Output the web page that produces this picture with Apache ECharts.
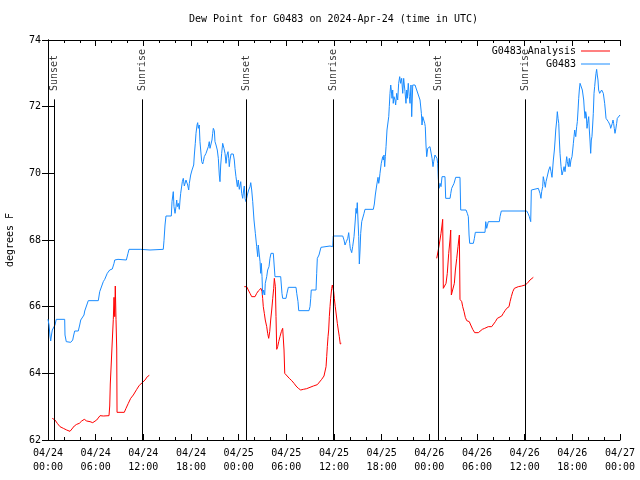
<!DOCTYPE html>
<html>
<head>
<meta charset="utf-8">
<script src="https://cdn.jsdelivr.net/npm/echarts@6/dist/echarts.min.js"></script>
<style>html,body{margin:0;padding:0;background:#fff}#c{width:640px;height:480px}</style>
</head>
<body>
<div id="c"></div>
<script>
// time in hours since 2024-04-24 00:00 UTC
const titleText = 'Dew Point for G0483 on 2024-Apr-24 (time in UTC)';
const yTicks = [62, 64, 66, 68, 70, 72, 74];
const sunTimes = [0.79, 11.87, 24.92, 35.92, 49.13, 60.09];
const sunLabels = ['Sunset', 'Sunrise', 'Sunset', 'Sunrise', 'Sunset', 'Sunrise'];

const analysisSeg1 = [[0.54,62.65],[0.88,62.6],[1.17,62.5],[1.51,62.4],[1.93,62.35],[2.35,62.3],[2.77,62.26],[2.98,62.32],[3.31,62.42],[3.61,62.47],[3.94,62.5],[4.24,62.57],[4.57,62.62],[4.87,62.57],[5.29,62.55],[5.63,62.52],[5.83,62.47],[6.13,62.6],[6.55,62.73],[6.96,62.72],[7.68,62.73],[7.77,63.02],[7.84,63.68],[7.97,64.34],[8.09,64.97],[8.22,65.62],[8.31,66.28],[8.4,65.7],[8.47,66.62],[8.56,65.62],[8.65,64.73],[8.69,62.83],[9.6,62.83],[9.82,62.95],[10.11,63.1],[10.41,63.25],[10.74,63.35],[11.17,63.52],[11.49,63.64],[11.87,63.72],[12.21,63.8],[12.5,63.9],[12.75,63.94]];
const analysisSeg2 = [[24.71,66.6],[25.01,66.6],[25.21,66.5],[25.43,66.4],[25.64,66.3],[25.84,66.25],[26.06,66.3],[26.27,66.4],[26.47,66.47],[26.69,66.52],[26.81,66.55],[26.94,66.45],[27.02,66.25],[27.1,66.0],[27.23,65.8],[27.35,65.6],[27.53,65.4],[27.65,65.2],[27.78,65.05],[27.91,65.25],[28.03,65.6],[28.16,65.9],[28.29,66.25],[28.41,66.55],[28.49,66.85],[28.62,66.6],[28.7,65.7],[28.79,64.72],[28.91,64.8],[29.04,64.95],[29.2,65.1],[29.37,65.25],[29.54,65.35],[29.62,65.4],[29.71,64.7],[29.8,64.0],[30.05,63.95],[30.37,63.85],[30.68,63.78],[30.97,63.7],[31.22,63.62],[31.51,63.55],[31.81,63.5],[32.14,63.52],[32.56,63.54],[32.98,63.58],[33.4,63.62],[33.9,63.66],[34.15,63.7],[34.45,63.82],[34.74,63.92],[34.91,63.98],[35.0,64.2],[35.08,64.5],[35.16,64.8],[35.25,65.1],[35.33,65.3],[35.41,65.7],[35.5,66.0],[35.58,66.25],[35.71,66.55],[35.79,66.65],[35.87,66.55],[35.96,66.45],[36.04,66.25],[36.16,66.0],[36.29,65.75],[36.42,65.5],[36.54,65.3],[36.67,65.1],[36.79,64.88],[36.92,64.9]];
const analysisSeg3 = [[48.93,67.45],[49.0,67.4],[49.13,67.7],[49.34,68.0],[49.47,68.2],[49.6,68.45],[49.68,68.62],[49.76,66.55],[49.97,66.55],[50.1,66.7],[50.26,67.0],[50.44,67.6],[50.6,68.0],[50.69,68.3],[50.77,66.35],[51.02,66.35],[51.15,66.7],[51.28,67.1],[51.45,67.45],[51.61,67.8],[51.7,68.0],[51.78,68.15],[51.86,66.22],[52.08,66.15],[52.2,66.0],[52.37,65.85],[52.53,65.68],[52.71,65.58],[53.03,65.55],[53.21,65.45],[53.46,65.32],[53.71,65.22],[53.96,65.17],[54.17,65.22],[54.38,65.27],[54.67,65.32],[54.97,65.35],[55.42,65.4],[55.85,65.4],[56.05,65.45],[56.31,65.55],[56.56,65.65],[56.81,65.7],[57.11,65.72],[57.31,65.8],[57.53,65.88],[57.74,65.95],[58.03,66.0],[58.16,66.15],[58.32,66.3],[58.5,66.45],[58.7,66.55],[58.91,66.58],[59.2,66.6],[59.63,66.62],[60.04,66.65],[60.33,66.7],[60.67,66.8],[61.09,66.88]];

const observed = [[0,65.62],[0.13,65.45],[0.25,65.12],[0.34,64.97],[0.42,65.12],[0.54,65.3],[0.76,65.3],[0.88,65.45],[1.04,65.62],[2.1,65.62],[2.14,65.15],[2.3,64.95],[2.86,64.93],[3.11,65.0],[3.21,65.12],[3.36,65.27],[3.81,65.27],[3.99,65.45],[4.12,65.6],[4.53,65.75],[4.62,65.87],[5.07,66.18],[6.33,66.18],[6.51,66.45],[6.96,66.75],[7.14,66.82],[7.46,67.0],[7.77,67.1],[8.09,67.13],[8.31,67.3],[8.4,67.4],[8.81,67.42],[9.86,67.4],[10.07,67.6],[10.2,67.72],[11.67,67.72],[12.84,67.7],[14.51,67.72],[14.6,67.98],[14.73,68.45],[14.85,68.72],[15.52,68.72],[15.61,69.15],[15.77,69.45],[15.86,69.0],[15.99,68.8],[16.11,69.0],[16.2,69.2],[16.28,69.0],[16.4,69.1],[16.53,68.92],[16.62,69.2],[16.7,69.4],[16.91,69.75],[17.03,69.85],[17.16,69.62],[17.37,69.8],[17.58,69.65],[17.71,69.5],[17.79,69.7],[17.96,69.95],[18.13,70.1],[18.34,70.25],[18.42,70.55],[18.54,70.9],[18.63,71.2],[18.76,71.45],[18.84,71.52],[18.92,71.35],[19.04,71.45],[19.13,70.95],[19.22,70.7],[19.35,70.35],[19.47,70.28],[19.55,70.35],[19.67,70.5],[19.89,70.6],[20.18,70.8],[20.3,70.95],[20.39,70.75],[20.52,70.7],[20.64,71.0],[20.73,71.2],[20.81,71.35],[20.94,71.28],[21.02,70.95],[21.15,70.85],[21.31,70.7],[21.44,70.45],[21.56,69.95],[21.65,69.75],[21.74,70.25],[21.86,70.6],[21.99,70.9],[22.15,70.75],[22.28,70.6],[22.41,70.3],[22.53,70.55],[22.66,70.65],[22.75,70.45],[22.82,70.2],[22.91,70.4],[23.04,70.58],[23.32,70.58],[23.45,70.4],[23.54,70.15],[23.66,69.9],[23.83,69.6],[23.95,69.8],[24.08,69.52],[24.26,69.75],[24.38,69.4],[24.51,69.25],[24.63,69.5],[24.71,69.62],[24.8,69.25],[24.92,69.15],[25.09,69.35],[25.26,69.5],[25.43,69.6],[25.52,69.72],[25.64,69.5],[25.77,69.15],[25.93,68.6],[26.1,68.2],[26.27,67.8],[26.4,67.5],[26.47,67.85],[26.6,67.9],[26.69,67.35],[26.77,67.0],[26.85,67.3],[26.94,66.9],[27.02,66.35],[27.15,66.5],[27.28,66.35],[27.35,66.7],[27.53,66.9],[27.65,67.1],[27.82,67.2],[27.94,67.45],[28.07,67.6],[28.36,67.6],[28.45,67.55],[28.57,66.9],[29.29,66.9],[29.45,66.4],[29.54,66.25],[29.96,66.25],[30.08,66.4],[30.25,66.58],[31.22,66.58],[31.31,66.4],[31.47,66.15],[31.56,65.88],[32.85,65.88],[32.98,66.0],[33.07,66.25],[33.14,66.5],[33.74,66.5],[33.82,67.0],[33.9,67.45],[34.11,67.55],[34.36,67.78],[34.53,67.82],[35.5,67.82],[35.84,67.8],[35.91,68.12],[37.1,68.12],[37.26,68.0],[37.39,67.85],[37.55,67.95],[37.73,68.05],[37.85,68.22],[37.98,67.9],[38.05,67.75],[38.23,67.62],[38.35,67.8],[38.52,68.1],[38.68,68.6],[38.77,68.95],[38.86,68.8],[38.93,69.12],[39.02,68.6],[39.11,68.1],[39.19,67.28],[39.28,67.7],[39.36,68.2],[39.49,68.55],[39.69,68.6],[39.78,68.8],[39.9,68.92],[40.95,68.92],[41.08,69.08],[41.2,69.35],[41.38,69.65],[41.54,69.88],[41.63,69.7],[41.7,69.8],[41.79,70.0],[41.95,70.3],[42.13,70.5],[42.21,70.4],[42.29,70.55],[42.38,70.2],[42.46,70.5],[42.55,70.8],[42.67,71.3],[42.89,71.7],[42.96,72.0],[43.05,72.4],[43.14,72.65],[43.21,72.5],[43.3,72.25],[43.39,72.5],[43.46,72.1],[43.55,72.3],[43.68,72.2],[43.76,72.05],[43.89,72.4],[44.02,72.2],[44.14,72.7],[44.27,72.9],[44.39,72.7],[44.52,72.85],[44.65,72.4],[44.77,72.85],[44.85,72.65],[44.94,72.45],[45.06,72.1],[45.15,72.5],[45.23,72.25],[45.35,72.7],[45.48,72.3],[45.57,72.1],[45.69,72.65],[45.78,71.7],[45.91,72.65],[45.99,72.7],[46.2,72.65],[46.41,72.5],[46.62,72.45],[46.83,72.2],[47.0,71.8],[47.08,71.45],[47.17,71.7],[47.3,71.75],[47.42,71.5],[47.49,71.4],[47.58,70.85],[47.67,70.5],[47.8,70.75],[47.92,70.8],[48.08,70.8],[48.21,70.75],[48.34,70.45],[48.46,70.2],[48.55,70.35],[48.71,70.55],[48.84,70.6],[48.96,70.45],[49.05,70.3],[49.13,69.85],[49.22,69.55],[49.35,69.7],[49.47,69.6],[49.6,69.9],[49.97,69.9],[50.06,69.25],[50.61,69.25],[50.7,69.4],[50.81,69.55],[51.02,69.6],[51.11,69.7],[51.32,69.88],[51.86,69.88],[51.95,68.9],[52.62,68.9],[52.78,68.8],[52.91,68.7],[53.0,68.15],[53.08,67.9],[53.54,67.9],[53.67,68.05],[53.79,68.23],[55.01,68.23],[55.1,68.55],[55.22,68.35],[55.3,68.4],[55.42,68.55],[56.81,68.55],[56.9,68.7],[57.06,68.87],[60.26,68.87],[60.42,68.8],[60.59,68.7],[60.76,68.55],[60.84,69.5],[60.92,69.55],[61.72,69.55],[61.84,69.5],[61.93,69.4],[62.05,69.25],[62.14,69.45],[62.27,69.6],[62.34,69.9],[62.47,69.75],[62.6,69.58],[62.69,69.75],[62.85,69.8],[63.03,70.1],[63.19,70.2],[63.32,70.05],[63.44,69.88],[63.61,70.4],[63.74,70.7],[63.83,71.0],[63.91,71.3],[64.04,71.6],[64.11,71.85],[64.2,71.65],[64.29,71.5],[64.37,71.0],[64.45,70.6],[64.58,70.2],[64.7,69.95],[64.79,69.9],[64.87,70.1],[64.96,70.2],[65.08,70.05],[65.2,70.3],[65.29,70.5],[65.37,70.35],[65.5,70.2],[65.62,70.45],[65.71,70.2],[65.83,70.4],[65.96,70.5],[66.05,70.7],[66.13,70.9],[66.21,71.1],[66.3,71.3],[66.43,71.1],[66.55,71.4],[66.63,71.55],[66.72,71.9],[66.8,72.25],[66.88,72.5],[66.97,72.7],[67.05,72.65],[67.18,72.75],[67.26,72.5],[67.35,72.55],[67.43,72.2],[67.51,71.9],[67.6,71.65],[67.68,71.85],[67.76,71.75],[67.85,71.35],[67.93,71.5],[68.06,71.7],[68.14,71.3],[68.22,71.0],[68.31,70.6],[68.39,71.0],[68.47,71.1],[68.56,71.45],[68.64,71.8],[68.73,72.4],[68.81,72.6],[68.89,72.8],[68.98,73.0],[69.06,73.12],[69.14,72.95],[69.23,72.8],[69.31,72.5],[69.44,72.4],[69.52,72.35],[69.6,72.4],[69.69,72.5],[69.82,72.55],[69.9,72.4],[69.98,72.35],[70.07,72.1],[70.15,71.9],[70.24,71.65],[70.4,71.62],[70.53,71.55],[70.65,71.55],[70.74,71.45],[70.83,71.35],[70.95,71.35],[71.03,71.5],[71.12,71.6],[71.2,71.5],[71.28,71.35],[71.37,71.2],[71.45,71.3],[71.58,71.5],[71.66,71.65],[71.83,71.7],[72.0,71.75]];

const analysis = analysisSeg1.concat([[18, null]], analysisSeg2, [[42, null]], analysisSeg3);

const FONT = '"DejaVu Sans Mono", "Liberation Mono", monospace';
function xLabel(v) {
  const day = 24 + Math.floor(v / 24);
  const h = v % 24;
  return '04/' + day + '\n' + (h < 10 ? '0' : '') + h + ':00';
}

const chart = echarts.init(document.getElementById('c'), null, { renderer: 'canvas' });
chart.setOption({
  animation: false,
  backgroundColor: '#fff',
  title: {
    text: titleText, left: 184, top: 9,
    textStyle: { fontFamily: FONT, fontSize: 10, fontWeight: 'normal', color: '#000' }
  },
  legend: {
    data: ['G0483 Analysis', 'G0483'],
    orient: 'vertical', right: 25, top: 41, align: 'right', icon: 'rect',
    itemWidth: 29, itemHeight: 1, itemGap: 3,
    textStyle: { fontFamily: FONT, fontSize: 10, color: '#000' }
  },
  grid: { left: 48, right: 20, top: 40, bottom: 40, containLabel: false, outerBoundsMode: 'none' },
  xAxis: [{
    type: 'value', min: 0, max: 72, interval: 6, position: 'bottom',
    axisLine: { show: true, lineStyle: { color: '#000', width: 1 } },
    axisTick: { show: true, inside: true, length: 6, lineStyle: { color: '#000' } },
    minorTick: { show: true, splitNumber: 3, length: 3, lineStyle: { color: '#000' } },
    splitLine: { show: false },
    axisLabel: { formatter: xLabel, fontFamily: FONT, fontSize: 10, color: '#000', lineHeight: 14, margin: 6, hideOverlap: false }
  }, {
    type: 'value', min: 0, max: 72, interval: 6, position: 'top',
    axisLine: { show: true, lineStyle: { color: '#000', width: 1 } },
    axisTick: { show: true, inside: true, length: 6, lineStyle: { color: '#000' } },
    minorTick: { show: true, splitNumber: 3, length: 3, lineStyle: { color: '#000' } },
    splitLine: { show: false },
    axisLabel: { show: false }
  }],
  yAxis: [{
    type: 'value', min: yTicks[0], max: yTicks[yTicks.length - 1], interval: 2, position: 'left',
    name: 'degrees F', nameLocation: 'middle', nameRotate: 90, nameGap: 33,
    nameTextStyle: { fontFamily: FONT, fontSize: 10, color: '#000' },
    axisLine: { show: true, lineStyle: { color: '#000', width: 1 } },
    axisTick: { show: true, inside: true, length: 6, lineStyle: { color: '#000' } },
    splitLine: { show: false },
    axisLabel: { fontFamily: FONT, fontSize: 10, color: '#000', margin: 7 }
  }, {
    type: 'value', min: yTicks[0], max: yTicks[yTicks.length - 1], interval: 2, position: 'right',
    axisLine: { show: true, lineStyle: { color: '#000', width: 1 } },
    axisTick: { show: true, inside: true, length: 6, lineStyle: { color: '#000' } },
    splitLine: { show: false },
    axisLabel: { show: false }
  }],
  series: [{
    name: 'sun', type: 'scatter', xAxisIndex: 0, yAxisIndex: 0, silent: true, z: 1,
    symbolSize: 0,
    data: sunTimes.map(t => [t, 72.44]),
    label: {
      show: true, position: 'inside', rotate: 90, align: 'left', verticalAlign: 'middle',
      offset: [1, 0],
      formatter: p => sunLabels[p.dataIndex],
      fontFamily: FONT, fontSize: 10, color: '#000'
    },
    markLine: {
      silent: true, symbol: ['none', 'none'], animation: false,
      label: { show: false },
      lineStyle: { color: '#000', type: 'solid', width: 1 },
      data: sunTimes.map(t => [{ coord: [t, 62] }, { coord: [t, 72.22] }])
    }
  }, {
    name: 'G0483 Analysis', type: 'line', xAxisIndex: 0, yAxisIndex: 0,
    data: analysis, symbol: 'none', connectNulls: false, z: 3,
    lineStyle: { color: '#ff0000', width: 1 }, itemStyle: { color: '#ff0000' }
  }, {
    name: 'G0483', type: 'line', xAxisIndex: 0, yAxisIndex: 0,
    data: observed, symbol: 'none', z: 4,
    lineStyle: { color: '#1a8cff', width: 1 }, itemStyle: { color: '#1a8cff' }
  }]
});
</script>
</body>
</html>
